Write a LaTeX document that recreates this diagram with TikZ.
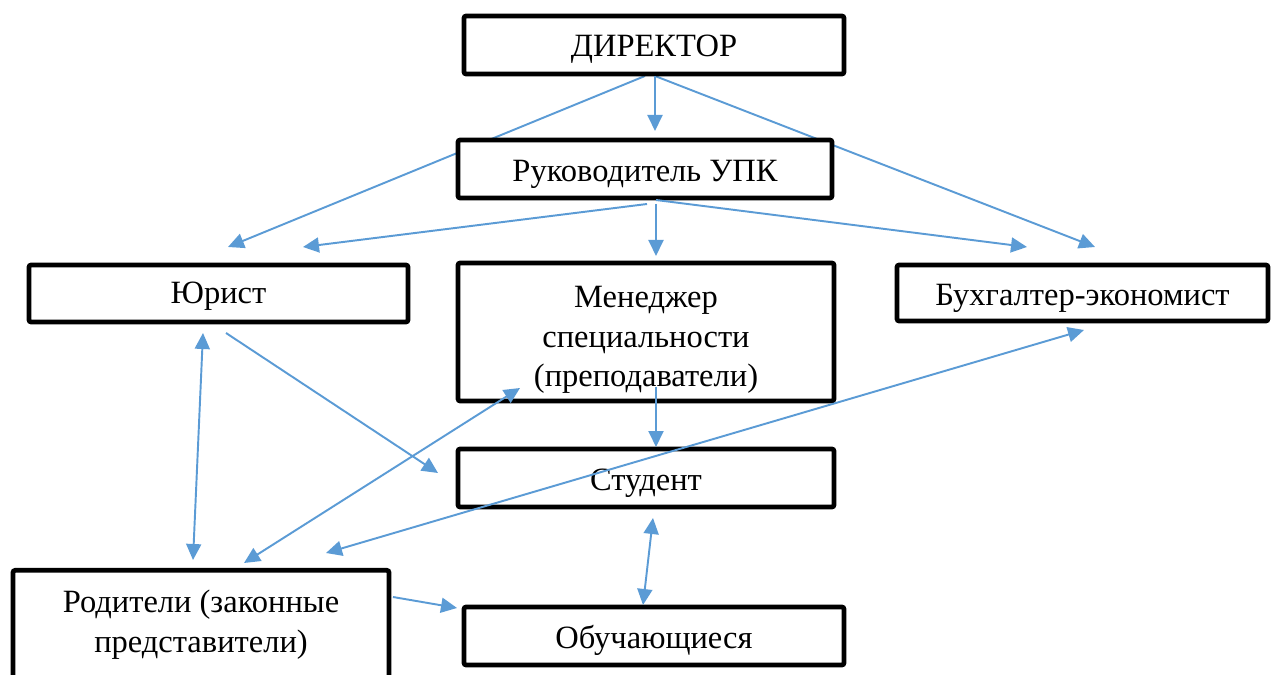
\documentclass[tikz,border=0pt]{standalone}
\usepackage{fontspec}
\setmainfont{Liberation Serif}
\usetikzlibrary{arrows.meta,backgrounds}
\definecolor{conn}{HTML}{5B9BD5}
\newcommand\boxtext[2][-2.3pt]{\raisebox{#1}[\height][\depth]{\begin{tabular}{@{}c@{}}#2\end{tabular}}}
\tikzset{
  box/.style={draw=black, line width=2.7pt, fill=white, rounded corners=1.2pt, inner sep=0pt, font=\fontsize{18.5}{22.7}\selectfont},
  arr/.style={draw=conn, line width=1.1pt, -{Triangle[length=0.32cm,width=0.3cm]}},
  darr/.style={draw=conn, line width=1.1pt, {Triangle[length=0.32cm,width=0.3cm]}-{Triangle[length=0.32cm,width=0.3cm]}}
}
\begin{document}
\begin{tikzpicture}[x=0.02cm,y=-0.02cm]
\useasboundingbox (0,0) rectangle (1272,675);
% boxes
\node[box, minimum width=7.6cm, minimum height=1.16cm] (dir) at (654,45) {\boxtext[-2.1pt]{ДИРЕКТОР}};
\node[box, minimum width=7.48cm, minimum height=1.16cm] (ruk) at (645,169) {\boxtext[-2.7pt]{Руководитель УПК}};
\node[box, minimum width=7.58cm, minimum height=1.14cm] (yur) at (218.5,293.5) {\boxtext[-1.2pt]{Юрист}};
\node[box, minimum width=7.52cm, minimum height=2.76cm] (men) at (646,332) {\boxtext[-4pt]{Менеджер\\специальности\\(преподаватели)}};
\node[box, minimum width=7.42cm, minimum height=1.12cm] (buh) at (1082.5,293) {\boxtext[-2.3pt]{Бухгалтер-экономист}};
\node[box, minimum width=7.52cm, minimum height=1.16cm] (stu) at (646,478) {\boxtext[-2.3pt]{Студент}};
\node[box, minimum width=7.52cm, minimum height=2.7cm, anchor=north] (rod) at (201,568) {\boxtext[7.7pt]{Родители (законные\\представители)}};
\node[box, minimum width=7.6cm, minimum height=1.16cm] (obu) at (654,636) {\boxtext[-2.3pt]{Обучающиеся}};
% connector end points
\coordinate (d1) at (645,76);
\coordinate (d2) at (655,76);
\coordinate (d3) at (655,76);
\coordinate (ruktop) at (655,131);
\coordinate (yurA) at (228,247);
\coordinate (yurB) at (303,247);
\coordinate (buhA) at (1095,247);
\coordinate (buhB) at (1027,247);
\coordinate (r1) at (647,204);
\coordinate (r2) at (656,204);
\coordinate (r3) at (656,200);
\coordinate (mentop) at (656,256);
\coordinate (yurbot1) at (203,333);
\coordinate (yurbot2) at (226,333);
\coordinate (rodtop1) at (193,560);
\coordinate (studleft) at (438,473);
\coordinate (menbot) at (656,387);
\coordinate (stutop) at (656,447);
\coordinate (menin) at (520,388);
\coordinate (rodtop2) at (244,563);
\coordinate (buhbot) at (1084,330);
\coordinate (rodtop3) at (326,553);
\coordinate (stubot) at (653,518);
\coordinate (obutop) at (643,605);
\coordinate (rodright) at (393,597);
\coordinate (obuleft) at (457,608);
% connectors behind boxes
\begin{scope}[on background layer]
\draw[arr] (d1) -- (yurA);
\draw[arr] (d3) -- (buhA);
\end{scope}
% connectors
\draw[arr] (d2) -- (ruktop);
\draw[arr] (r1) -- (yurB);
\draw[arr] (r2) -- (mentop);
\draw[arr] (r3) -- (buhB);
\draw[darr] (yurbot1) -- (rodtop1);
\draw[arr] (yurbot2) -- (studleft);
\draw[arr] (menbot) -- (stutop);
\draw[darr] (menin) -- (rodtop2);
\draw[darr] (buhbot) -- (rodtop3);
\draw[darr] (stubot) -- (obutop);
\draw[arr] (rodright) -- (obuleft);
\end{tikzpicture}
\end{document}
